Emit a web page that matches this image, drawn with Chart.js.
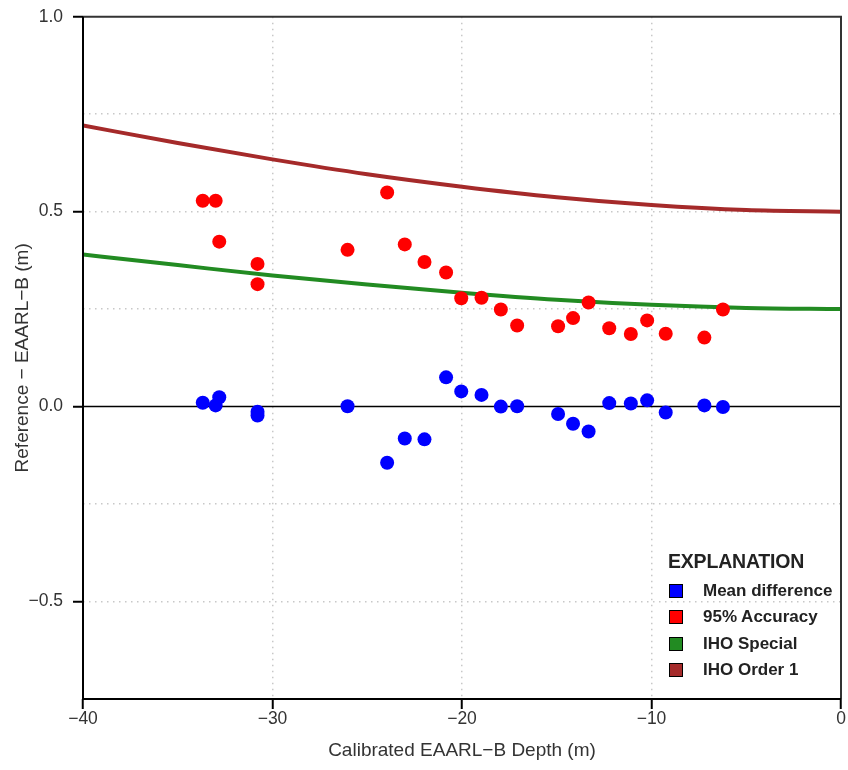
<!DOCTYPE html>
<html>
<head>
<meta charset="utf-8">
<script src="https://cdn.jsdelivr.net/npm/chart.js@4.4.1/dist/chart.umd.min.js"></script>
<style>
  html, body { margin: 0; padding: 0; background: #ffffff; }
  #wrap { position: relative; width: 848px; height: 770px; }
  #legend { position: absolute; left: 668px; top: 547px; font-family: 'Liberation Sans', Arial, sans-serif; font-weight: bold; color: #222; }
  #legend .title { font-size: 19.5px; line-height: 28px; margin-bottom: 3px; letter-spacing: -0.2px; }
  #legend .item { position: relative; height: 26.4px; font-size: 17px; line-height: 26px; white-space: nowrap; }
  #legend .sw { position: absolute; left: 1px; top: 6px; width: 12px; height: 12px; border: 1px solid #000; }
  #legend .lbl { position: absolute; left: 35px; top: 0; }
</style>
</head>
<body>
<div id="wrap">
  <canvas id="c" width="848" height="770"></canvas>
  <div id="legend"></div>
</div>
<script>
// ---- data ----
const depth = [-33.68, -33.0, -32.81, -30.79, -30.79, -26.04, -23.95, -23.02, -21.98, -20.84, -20.04, -18.97, -17.95, -17.09, -14.93, -14.14, -13.32, -12.23, -11.09, -10.23, -9.25, -7.21, -6.23];
const meanDiff = [0.010, 0.003, 0.024, -0.013, -0.023, 0.001, -0.144, -0.082, -0.084, 0.075, 0.039, 0.030, 0.000, 0.001, -0.019, -0.044, -0.064, 0.009, 0.008, 0.016, -0.015, 0.003, -0.001];
const acc95 = [0.528, 0.528, 0.423, 0.366, 0.314, 0.402, 0.549, 0.416, 0.371, 0.344, 0.278, 0.279, 0.249, 0.208, 0.206, 0.227, 0.267, 0.201, 0.186, 0.221, 0.187, 0.177, 0.249];
const ihoDepth = [-40, -35, -30, -25, -20, -15, -10, -5, 0];
const ihoSpecial = [0.390, 0.363, 0.336, 0.313, 0.292, 0.274, 0.261, 0.253, 0.250];
const ihoOrder1 = [0.721, 0.676, 0.634, 0.596, 0.564, 0.537, 0.517, 0.504, 0.500];
const seriesNames = ['Mean difference', '95% Accuracy', 'IHO Special', 'IHO Order 1'];
const seriesColors = ['#0000FF', '#FF0000', '#228B22', '#A52A2A'];
const xTickValues = [-40, -30, -20, -10, 0];
const yTickValues = [-0.5, 0.0, 0.5, 1.0];

const FONT = "'Liberation Sans', Arial, sans-serif";
const pts = (xs, ys) => xs.map((x, i) => ({x: x, y: ys[i]}));
const minus = s => s.replace('-', '\u2212');
const isLabeledY = v => yTickValues.some(t => Math.abs(t - v) < 1e-9);
const isLabeledX = v => xTickValues.some(t => Math.abs(t - v) < 1e-9);

const framePlugin = {
  id: 'frame',
  beforeDatasetsDraw(chart) {
    const {ctx, chartArea: a, scales} = chart;
    const y0 = scales.y.getPixelForValue(0);
    ctx.save();
    ctx.strokeStyle = '#000';
    ctx.lineWidth = 1.5;
    ctx.beginPath(); ctx.moveTo(a.left, y0); ctx.lineTo(a.right, y0); ctx.stroke();
    ctx.restore();
  },
  afterDraw(chart) {
    const {ctx, chartArea: a} = chart;
    ctx.save();
    ctx.lineWidth = 2;
    ctx.strokeStyle = '#333';
    ctx.beginPath(); ctx.moveTo(a.left, a.top); ctx.lineTo(a.right, a.top); ctx.lineTo(a.right, a.bottom); ctx.stroke();
    ctx.strokeStyle = '#000';
    ctx.beginPath(); ctx.moveTo(a.left, a.top); ctx.lineTo(a.left, a.bottom); ctx.lineTo(a.right, a.bottom); ctx.stroke();
    ctx.restore();
  }
};

new Chart(document.getElementById('c'), {
  type: 'scatter',
  data: {
    datasets: [
      { label: seriesNames[0], data: pts(depth, meanDiff), backgroundColor: seriesColors[0], borderWidth: 0, pointRadius: 7, showLine: false },
      { label: seriesNames[1], data: pts(depth, acc95), backgroundColor: seriesColors[1], borderWidth: 0, pointRadius: 7, showLine: false },
      { label: seriesNames[2], data: pts(ihoDepth, ihoSpecial), borderColor: seriesColors[2], backgroundColor: seriesColors[2], borderWidth: 4, pointRadius: 0, showLine: true, cubicInterpolationMode: 'monotone' },
      { label: seriesNames[3], data: pts(ihoDepth, ihoOrder1), borderColor: seriesColors[3], backgroundColor: seriesColors[3], borderWidth: 4, pointRadius: 0, showLine: true, cubicInterpolationMode: 'monotone' }
    ]
  },
  options: {
    responsive: false,
    animation: false,
    layout: { padding: { left: 0, right: 3, top: 16.7, bottom: 0 } },
    plugins: { legend: { display: false }, tooltip: { enabled: false } },
    scales: {
      x: {
        type: 'linear', min: -40, max: 0,
        afterFit: s => { s.height = 71; s.paddingLeft = 0; s.paddingRight = 0; },
        ticks: { stepSize: 10, color: '#333', padding: 0, font: { family: FONT, size: 17.5 },
                 callback: v => isLabeledX(v) ? minus(String(v)) : '' },
        grid: {
          color: ctx => (ctx.tick && (ctx.tick.value === -40 || ctx.tick.value === 0)) ? 'rgba(0,0,0,0)' : '#c8c8c8',
          lineWidth: 1.5, tickLength: 10, tickColor: '#000', tickWidth: 2, tickBorderDash: []
        },
        border: { display: false, dash: [1.5, 4.5] },
        title: { display: true, text: 'Calibrated EAARL\u2212B Depth (m)', color: '#333', font: { family: FONT, size: 19 }, padding: { top: 0, bottom: 8 } }
      },
      y: {
        type: 'linear', min: -0.75, max: 1.0,
        afterFit: s => { s.width = 83; s.paddingTop = 0; s.paddingBottom = 0; },
        ticks: { stepSize: 0.25, color: '#333', padding: 10, font: { family: FONT, size: 17.5 },
                 callback: v => isLabeledY(v) ? minus(Number(v).toFixed(1)) : '' },
        grid: {
          color: ctx => {
            if (!ctx.tick) return 'rgba(0,0,0,0)';
            const v = ctx.tick.value;
            return (Math.abs(v) < 1e-9 || v <= -0.75 || v >= 1.0) ? 'rgba(0,0,0,0)' : '#c8c8c8';
          },
          lineWidth: 1.5, tickLength: 10, tickWidth: 2, tickBorderDash: [],
          tickColor: ctx => (ctx.tick && isLabeledY(ctx.tick.value)) ? '#000' : 'rgba(0,0,0,0)'
        },
        border: { display: false, dash: [1.5, 4.5] },
        title: { display: true, text: 'Reference \u2212 EAARL\u2212B (m)', color: '#333', font: { family: FONT, size: 19 }, padding: { top: 11, bottom: 0 } }
      }
    }
  },
  plugins: [framePlugin]
});

// HTML legend built from the series names and colours
const lg = document.getElementById('legend');
const t = document.createElement('div'); t.className = 'title'; t.textContent = 'EXPLANATION'; lg.appendChild(t);
seriesNames.forEach((n, i) => {
  const it = document.createElement('div'); it.className = 'item';
  const sw = document.createElement('span'); sw.className = 'sw'; sw.style.background = seriesColors[i];
  const lb = document.createElement('span'); lb.className = 'lbl'; lb.textContent = n;
  it.appendChild(sw); it.appendChild(lb); lg.appendChild(it);
});
</script>
</body>
</html>
